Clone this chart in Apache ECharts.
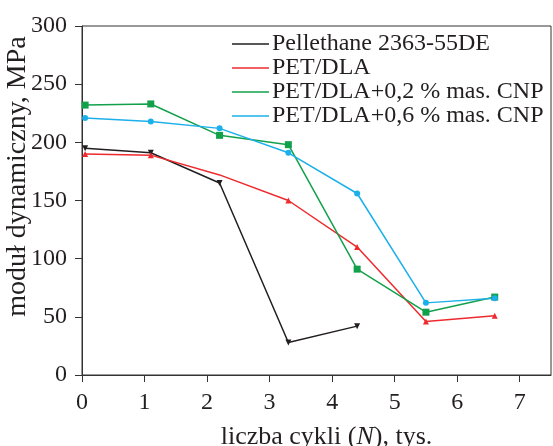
<!DOCTYPE html>
<html>
<head>
<meta charset="utf-8">
<script src="https://cdn.jsdelivr.net/npm/echarts@6/dist/echarts.min.js"></script>
<style>
  html, body { margin: 0; padding: 0; background: #fff; }
  #chart { width: 553px; height: 446px; }
</style>
</head>
<body>
<div id="chart"></div>
<script>
  // cycles (thousands)
  const cycles = [0.05, 1.1, 2.2, 3.3, 4.4, 5.5, 6.6]
  const xTicks = [0, 1, 2, 3, 4, 5, 6, 7]

  const seriesNames = [
    'Pellethane 2363-55DE',
    'PET/DLA',
    'PET/DLA+0,2 % mas. CNP',
    'PET/DLA+0,6 % mas. CNP'
  ]
  const pellethane = [195, 191, 165, 28, 42]
  const petDla = [190, 189, 172, 150, 110, 46, 51]
  const cnp02 = [232, 233, 206, 198, 91, 54, 67]
  const cnp06 = [221, 218, 212, 191, 156, 62, 66]

  const font = "'Liberation Serif', 'Times New Roman', serif"
  const ink = '#231f20'

  const pair = (vals) => vals.map((v, i) => [cycles[i], v])

  const option = {
    animation: false,
    backgroundColor: '#fff',
    textStyle: { fontFamily: font, color: ink },
    grid: {
      left: 82, top: 26, right: 2, bottom: 71,
      outerBoundsMode: 'none',
      show: true, borderColor: '#333', borderWidth: 1
    },
    legend: {
      orient: 'vertical',
      left: 232, top: 32,
      padding: 0,
      icon: 'rect',
      itemWidth: 37, itemHeight: 1.5,
      itemGap: 0,
      data: seriesNames,
      textStyle: { fontFamily: font, fontSize: 24, color: ink, lineHeight: 22, padding: [0, 0, 0, -2] }
    },
    xAxis: {
      type: 'value',
      min: 0, max: 7.5,
      name: 'liczba cykli ({i|N}), tys.',
      nameLocation: 'middle',
      nameGap: 49,
      nameTextStyle: {
        fontFamily: font, fontSize: 26, color: ink, padding: [0, 0, 0, 20],
        rich: { i: { fontFamily: font, fontSize: 26, color: ink, fontStyle: 'italic' } }
      },
      axisLine: { lineStyle: { color: '#333', width: 1 } },
      axisTick: { customValues: xTicks, length: 7, lineStyle: { color: '#333' } },
      axisLabel: { customValues: xTicks, margin: 16, fontFamily: font, fontSize: 24, color: ink },
      splitLine: { show: false }
    },
    yAxis: {
      type: 'value',
      min: 0, max: 300, interval: 50,
      name: 'moduł dynamiczny, MPa',
      nameLocation: 'middle',
      nameMoveOverlap: false,
      nameGap: 50,
      nameTextStyle: { fontFamily: font, fontSize: 28, color: ink, padding: [0, 0, 0, 48] },
      axisLine: { show: true, lineStyle: { color: '#333', width: 1 } },
      axisTick: { show: true, length: 7, lineStyle: { color: '#333' } },
      axisLabel: { margin: 15, fontFamily: font, fontSize: 24, color: ink },
      splitLine: { show: false }
    },
    series: [
      {
        name: seriesNames[0], type: 'line',
        data: pair(pellethane),
        color: '#231f20',
        symbol: 'triangle', symbolSize: 6, symbolRotate: 180,
        lineStyle: { width: 1.5 }
      },
      {
        name: seriesNames[1], type: 'line',
        data: pair(petDla).map((p, i) => i === 2 ? { value: p, symbol: 'none' } : p),
        color: '#ee2a2e',
        symbol: 'triangle', symbolSize: 6,
        lineStyle: { width: 1.5 }
      },
      {
        name: seriesNames[2], type: 'line',
        data: pair(cnp02),
        color: '#12a14b',
        symbol: 'rect', symbolSize: 7,
        lineStyle: { width: 1.5 }
      },
      {
        name: seriesNames[3], type: 'line',
        data: pair(cnp06),
        color: '#1cb0ea',
        symbol: 'circle', symbolSize: 6,
        lineStyle: { width: 1.5 }
      }
    ]
  }

  const myChart = echarts.init(document.getElementById('chart'))
  myChart.setOption(option)
</script>
</body>
</html>
